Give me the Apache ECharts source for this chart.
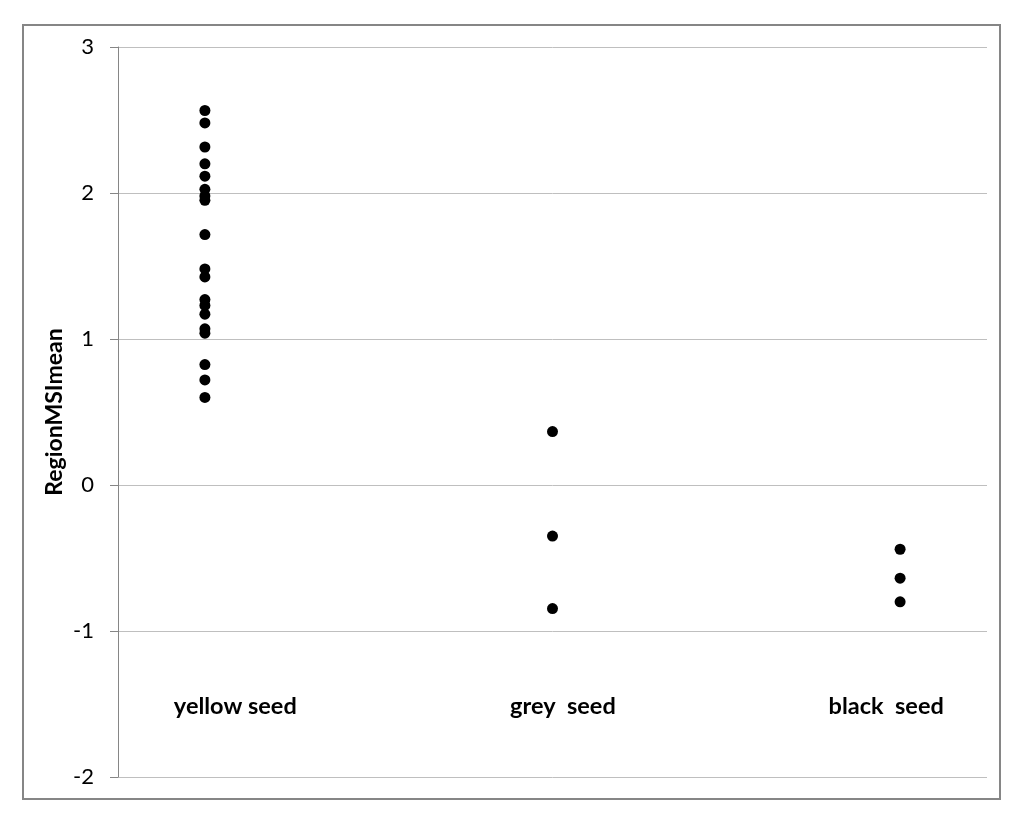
<!DOCTYPE html>
<html>
<head>
<meta charset="utf-8">
<script src="https://cdn.jsdelivr.net/npm/echarts@6/dist/echarts.min.js"></script>
<style>html,body{margin:0;padding:0;background:#fff;}#c{width:1024px;height:826px;}</style>
</head>
<body>
<div id="c"></div>
<script>
// Group x positions on a hidden 0..10 value axis
const groupX = [1, 5, 9];
const categories = ['yellow seed', 'grey  seed', 'black  seed'];
const labelX = [1.35, 5.12, 8.84];
const labelY = -1.515;
const yellowSeed = [2.565, 2.48, 2.315, 2.20, 2.115, 2.025, 1.98, 1.95, 1.715, 1.48, 1.425, 1.27, 1.23, 1.17, 1.07, 1.04, 0.825, 0.72, 0.60];
const greySeed = [0.366, -0.35, -0.846];
const blackSeed = [-0.44, -0.638, -0.80];
const yTicks = { min: -2, max: 3, interval: 1 };
const yName = 'RegionMSImean';

const groups = [yellowSeed, greySeed, blackSeed];
const points = [];
groups.forEach((g, i) => g.forEach(v => points.push([groupX[i], v])));
const labelData = categories.map((c, i) => ({ value: [labelX[i], labelY], name: c }));

const FONT = 'Lato, "Open Sans", sans-serif';
const chart = echarts.init(document.getElementById('c'));
chart.setOption({
  backgroundColor: '#fff',
  animation: false,
  grid: { left: 118, right: 37, top: 47, bottom: 49 },
  xAxis: {
    type: 'value', min: 0, max: 10,
    show: false
  },
  yAxis: {
    type: 'value', min: yTicks.min, max: yTicks.max, interval: yTicks.interval,
    name: yName, nameLocation: 'middle', nameGap: 52, nameRotate: 90,
    nameMoveOverlap: false,
    nameTextStyle: { fontFamily: FONT, fontWeight: 'bold', fontSize: 23, color: '#000' },
    axisLine: { show: true, lineStyle: { color: '#868686', width: 1 } },
    axisTick: { show: true, length: 8, lineStyle: { color: '#868686' } },
    axisLabel: { fontFamily: FONT, fontSize: 22, color: '#000', margin: 24 },
    splitLine: { show: true, lineStyle: { color: '#bfbfbf', width: 1 } }
  },
  graphic: [{
    type: 'rect', shape: { x: 23, y: 25, width: 977, height: 774 },
    style: { fill: 'none', stroke: '#868686', lineWidth: 2 }, silent: true
  }],
  series: [{
    type: 'scatter',
    data: points,
    symbol: 'circle', symbolSize: 11,
    itemStyle: { color: '#000', opacity: 1 }
  }, {
    type: 'scatter',
    data: labelData,
    symbolSize: 0,
    itemStyle: { color: 'transparent', opacity: 1 },
    label: {
      show: true, position: 'inside', formatter: p => p.name,
      fontFamily: FONT, fontWeight: 'bold', fontSize: 23.5, color: '#000'
    }
  }]
});
</script>
</body>
</html>
